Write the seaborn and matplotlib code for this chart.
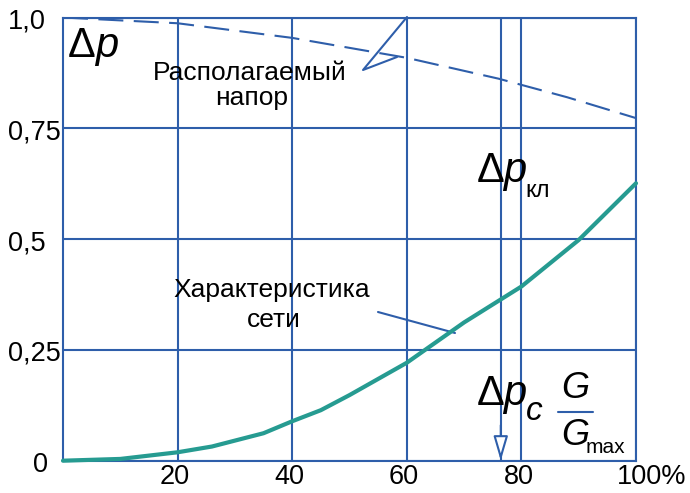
import matplotlib
matplotlib.use("Agg")
import matplotlib.pyplot as plt
import seaborn as sns
import pandas as pd
from matplotlib.transforms import blended_transform_factory

# Relative flow G/Gmax, % and network pressure-drop characteristic
flow_pct = [0, 10, 20, 26, 35, 40, 45, 50, 60, 70, 80, 90, 100]
network_dp = [0.0, 0.004, 0.019, 0.032, 0.062, 0.089, 0.114, 0.148, 0.221, 0.312, 0.393, 0.498, 0.626]

# Available pressure head
avail_flow = [0, 20, 40, 60, 76, 88, 100]
avail_dp = [1.0, 0.987, 0.954, 0.909, 0.862, 0.82, 0.773]

valve_flow = 76.4

x_ticks = [20, 40, 60, 80, 100]
x_labels = ["20", "40", "60", "80", "100%"]
y_ticks = [0, 0.25, 0.5, 0.75, 1.0]
y_labels = ["0", "0,25", "0,5", "0,75", "1,0"]

BLUE = "#2e5eaa"
TEAL = "#269b91"

sns.set_theme(style="white")
plt.rcParams["font.family"] = ["Liberation Sans", "DejaVu Sans"]
plt.rcParams["text.color"] = "black"

W, H = 690, 493
fig = plt.figure(figsize=(W / 100, H / 100), dpi=100)
x0, x1, ytop, ybot = 63, 636, 17.5, 460.7
ax = fig.add_axes([x0 / W, (H - ybot) / H, (x1 - x0) / W, (ybot - ytop) / H])

ax.set_xlim(0, 100)
ax.set_ylim(0, 1)
ax.set_xticks(x_ticks)
ax.set_yticks(y_ticks)
ax.tick_params(length=0, labelbottom=False, labelleft=False)
ax.grid(True, color=BLUE, lw=1.5)
for s in ax.spines.values():
    s.set_color(BLUE)
    s.set_linewidth(1.5)
ax.axvline(valve_flow, color=BLUE, lw=1.5, zorder=1)

net = pd.DataFrame({"flow": flow_pct, "dp": network_dp})
avail = pd.DataFrame({"flow": avail_flow, "dp": avail_dp})
sns.lineplot(data=net, x="flow", y="dp", color=TEAL, lw=3, ax=ax,
             clip_on=False, zorder=4)
sns.lineplot(data=avail, x="flow", y="dp", color=BLUE, lw=1.5, ax=ax,
             linestyle=(0, (12, 5)), zorder=3)
ax.set_xlabel("")
ax.set_ylabel("")

TICK_FS = 19.5

# Tick labels
px_x = 1 / (x1 - x0)          # one pixel in axes fraction (x)
px_y = 1 / (ybot - ytop)      # one pixel in axes fraction (y)
ytr = blended_transform_factory(ax.transAxes, ax.transData)
for v, lab in zip(y_ticks, y_labels):
    if lab == "0":
        ax.text((48 - x0) * px_x, v - 4 * px_y, lab, transform=ytr,
                ha="right", va="center", fontsize=TICK_FS, color="black")
    else:
        ax.text((8 - x0) * px_x, v - 4 * px_y, lab, transform=ytr,
                ha="left", va="center", fontsize=TICK_FS, color="black")
xtr = blended_transform_factory(ax.transData, ax.transAxes)
for v, lab in zip(x_ticks, x_labels):
    if lab.endswith("%"):
        ax.text((686 - x0) * px_x, -16.5 * px_y, lab, transform=ax.transAxes,
                ha="right", va="center", fontsize=TICK_FS, color="black")
    else:
        ax.text(v - 0.5, -16.5 * px_y, lab, transform=xtr,
                ha="center", va="center", fontsize=TICK_FS, color="black")


def dx(px):
    return (px - x0) / (x1 - x0) * 100


def dy(px):
    return (ybot - px) / (ybot - ytop)


# Axis symbol Δp
ax.text(dx(68), dy(57), "Δ", fontsize=30, va="baseline", ha="left")
ax.text(dx(95), dy(57), "p", fontsize=30, style="italic", va="baseline", ha="left")

# Curve captions
ax.text(dx(250), dy(80), "Располагаемый", fontsize=19, ha="center", va="baseline")
ax.text(dx(252), dy(105), "напор", fontsize=19, ha="center", va="baseline")
ax.text(dx(272), dy(297), "Характеристика", fontsize=19, ha="center", va="baseline")
ax.text(dx(274), dy(327), "сети", fontsize=19, ha="center", va="baseline")

# Leader lines
ax.plot([dx(407), dx(363), dx(397)], [dy(17), dy(70), dy(57)], color=BLUE, lw=1.5,
        clip_on=False, zorder=3)
ax.plot([dx(378), dx(455)], [dy(312), dy(333)], color=BLUE, lw=1.5, zorder=3)

# Valve pressure drop Δp_кл
ax.text(dx(477), dy(182), "Δ", fontsize=30, va="baseline", ha="left")
ax.text(dx(503), dy(182), "p", fontsize=30, style="italic", va="baseline", ha="left")
ax.text(dx(525), dy(197), "кл", fontsize=17, va="baseline", ha="left")

# Network pressure drop Δp_c
ax.text(dx(477), dy(405), "Δ", fontsize=30, va="baseline", ha="left")
ax.text(dx(503), dy(405), "p", fontsize=30, style="italic", va="baseline", ha="left")
ax.text(dx(526), dy(420), "c", fontsize=24, style="italic", va="baseline", ha="left")

# G / Gmax
ax.text(dx(561), dy(398), "G", fontsize=26, style="italic", va="baseline", ha="left")
ax.plot([dx(558), dx(593)], [dy(412), dy(412)], color=BLUE, lw=1.5)
ax.text(dx(561), dy(445), "G", fontsize=26, style="italic", va="baseline", ha="left")
ax.text(dx(586), dy(453), "max", fontsize=15, va="baseline", ha="left")

# Arrow marking the operating flow
ax.annotate("", xy=(valve_flow, 0), xytext=(valve_flow, 0.08),
            arrowprops=dict(arrowstyle="-|>,head_length=0.75,head_width=0.22",
                            mutation_scale=20, color=BLUE, fc="white", lw=1.5,
                            shrinkA=0, shrinkB=0), zorder=5)

fig.savefig("out.png", dpi=100)
